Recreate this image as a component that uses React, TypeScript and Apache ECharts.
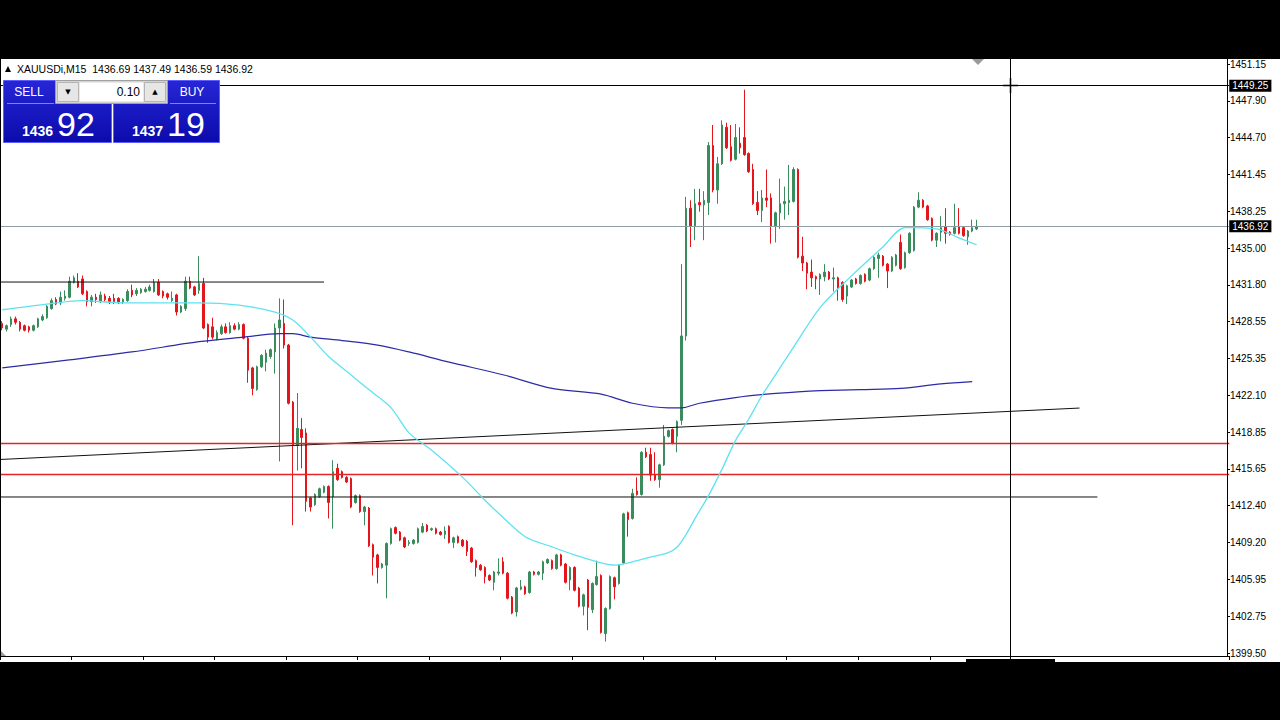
import React, { useEffect, useRef } from "react";
import * as echarts from "echarts";

const headerText = "XAUUSDi,M15  1436.69 1437.49 1436.59 1436.92";
const priceTickLabels = ["1399.50","1402.75","1405.95","1409.20","1412.40","1415.65","1418.85","1422.10","1425.35","1428.55","1431.80","1435.00","1438.25","1441.45","1444.70","1447.90","1451.15"];
const priceMin = 1399.5;
const priceMax = 1451.15;
const slotCount = 275;
const slotWidth = 4.47;
const lastTickSlot = 208;

const opens = [
1428.4,1427.9,1428.3,1428.8,1428.5,1428.2,1428.1,1427.8,1428.1,1428.7,
1428.9,1429.7,1430.5,1430.2,1430.6,1430.7,1432.0,1432.1,1432.3,1431.2,
1430.3,1430.7,1430.3,1430.8,1430.6,1430.6,1430.6,1430.3,1430.4,1431.3,
1431.0,1431.1,1431.2,1431.3,1431.2,1432.0,1431.2,1431.0,1430.4,1430.9,
1429.4,1429.7,1432.1,1431.6,1431.3,1431.9,1428.3,1428.1,1427.0,1427.5,
1428.1,1427.6,1428.2,1427.9,1428.3,1427.1,1424.5,1422.6,1424.6,1425.0,
1425.5,1425.9,1428.0,1428.4,1426.5,1421.5,1417.7,1419.1,1418.8,1413.1,
1412.5,1413.2,1413.6,1414.1,1413.2,1415.7,1415.4,1414.9,1414.8,1412.7,
1413.3,1411.9,1412.2,1409.0,1408.1,1407.0,1407.2,1409.1,1410.5,1410.1,
1409.6,1409.1,1409.1,1409.2,1410.1,1410.7,1410.3,1410.4,1410.1,1409.9,
1410.6,1409.2,1409.7,1409.4,1409.3,1408.7,1407.6,1407.2,1407.0,1406.3,
1405.7,1406.5,1407.5,1406.5,1404.4,1403.1,1405.1,1405.3,1404.8,1406.6,
1406.4,1406.5,1407.4,1407.6,1406.9,1408.1,1407.3,1405.9,1407.0,1405.2,
1403.6,1405.9,1403.3,1405.5,1406.3,1401.2,1403.4,1406.1,1405.6,1407.4,
1411.8,1411.3,1413.7,1413.4,1417.1,1416.9,1415.1,1414.7,1416.0,1418.5,
1419.1,1418.5,1419.9,1427.3,1438.5,1436.9,1439.0,1438.8,1439.0,1444.0,
1440.1,1442.4,1445.6,1443.9,1442.8,1444.2,1444.7,1443.3,1441.9,1439.0,
1438.3,1439.4,1439.4,1436.9,1438.1,1438.9,1439.0,1439.1,1441.9,1434.3,
1433.7,1432.9,1432.5,1432.3,1432.5,1432.9,1432.3,1432.4,1432.0,1430.8,
1431.6,1432.3,1431.9,1432.7,1432.2,1433.2,1434.1,1434.3,1433.6,1433.0,
1433.5,1435.5,1433.3,1434.6,1434.8,1438.6,1439.2,1438.7,1437.6,1435.7,
1436.4,1436.9,1436.4,1436.3,1436.9,1436.8,1436.0,1436.5,1436.69
];
const closes = [
1428.0,1428.2,1428.8,1428.5,1427.9,1427.8,1427.8,1428.2,1428.8,1429.0,
1429.9,1430.4,1430.1,1430.7,1430.8,1432.1,1432.4,1431.6,1431.0,1430.3,
1430.7,1430.5,1430.9,1430.5,1430.3,1430.3,1430.2,1430.5,1431.2,1430.9,
1431.3,1431.4,1431.4,1431.6,1432.0,1430.9,1430.8,1430.7,1430.6,1429.4,
1429.9,1432.1,1431.5,1430.9,1431.9,1428.0,1427.2,1427.2,1427.6,1428.1,
1427.6,1428.2,1427.9,1428.3,1427.1,1424.3,1422.7,1424.6,1425.6,1425.8,
1426.1,1428.0,1428.7,1426.5,1421.4,1417.7,1419.2,1418.4,1412.8,1412.3,
1413.4,1413.9,1414.1,1412.7,1415.4,1414.7,1414.9,1414.5,1412.3,1413.3,
1411.9,1412.3,1408.9,1407.9,1407.0,1407.3,1409.1,1410.4,1410.0,1409.4,
1408.8,1409.2,1409.4,1410.4,1410.6,1410.2,1410.4,1410.0,1409.9,1410.2,
1409.2,1409.6,1409.2,1408.9,1408.4,1407.5,1407.0,1406.8,1406.2,1405.9,
1406.6,1406.6,1406.5,1404.3,1403.0,1405.2,1405.3,1404.7,1406.6,1406.4,
1406.6,1407.5,1407.7,1406.9,1408.1,1407.2,1405.7,1407.0,1405.0,1403.6,
1404.6,1403.5,1405.6,1406.2,1401.3,1403.4,1406.2,1405.3,1407.2,1411.7,
1411.2,1413.5,1413.4,1417.1,1416.7,1415.1,1414.7,1416.0,1418.5,1419.0,
1417.9,1419.8,1427.3,1438.5,1436.9,1438.9,1438.8,1439.2,1444.0,1440.1,
1442.4,1445.8,1443.8,1442.7,1444.7,1443.8,1443.2,1441.7,1438.9,1438.3,
1439.4,1439.2,1436.9,1438.1,1438.9,1439.1,1439.2,1441.9,1434.2,1433.7,
1432.8,1432.4,1432.3,1432.7,1432.9,1432.3,1432.4,1431.5,1430.5,1431.7,
1432.2,1431.9,1432.6,1432.1,1433.2,1434.2,1434.4,1433.5,1433.0,1434.2,
1434.4,1433.2,1434.6,1436.3,1438.6,1439.2,1438.6,1437.5,1435.7,1436.3,
1436.8,1436.3,1436.2,1436.8,1436.3,1436.1,1436.5,1436.8,1436.92
];
const lows = [
1427.8,1427.7,1428.1,1428.3,1427.7,1427.7,1427.6,1427.7,1428.0,1428.6,
1428.8,1429.6,1430.0,1430.0,1430.4,1430.6,1431.9,1431.5,1430.9,1429.9,
1429.9,1430.2,1430.2,1430.3,1430.1,1430.1,1430.1,1430.1,1430.3,1430.7,
1430.8,1431.0,1431.1,1431.2,1431.1,1430.8,1430.6,1430.5,1430.3,1429.1,
1429.3,1429.5,1431.4,1430.8,1431.0,1427.9,1426.7,1427.0,1426.9,1427.4,
1427.5,1427.5,1427.8,1427.8,1427.0,1423.2,1422.1,1422.5,1424.5,1424.2,
1425.3,1424.0,1416.3,1426.2,1421.3,1410.7,1415.5,1415.7,1411.9,1411.9,
1412.4,1413.1,1413.5,1411.3,1410.4,1414.6,1414.8,1414.4,1412.2,1412.6,
1411.8,1410.7,1408.8,1406.3,1405.6,1406.9,1404.3,1409.0,1409.9,1409.3,
1408.7,1408.9,1409.0,1409.1,1410.0,1410.1,1410.2,1409.9,1409.8,1409.5,
1409.1,1408.7,1409.1,1408.8,1408.0,1407.4,1406.2,1406.7,1405.6,1405.8,
1405.0,1406.3,1406.4,1404.2,1402.9,1402.7,1405.0,1404.6,1404.7,1406.3,
1406.3,1405.9,1407.3,1406.8,1406.8,1407.1,1405.6,1405.0,1404.9,1403.5,
1402.8,1401.5,1403.0,1405.4,1401.2,1400.5,1403.3,1404.2,1405.5,1407.3,
1409.7,1411.2,1413.3,1413.3,1416.6,1414.6,1414.6,1414.0,1415.9,1418.4,
1417.8,1417.1,1419.5,1426.9,1435.1,1435.7,1438.2,1435.7,1437.9,1439.9,
1438.9,1442.3,1443.7,1442.6,1442.7,1443.3,1443.1,1441.6,1438.8,1437.9,
1437.3,1438.6,1435.4,1435.5,1436.7,1437.5,1437.9,1439.0,1434.1,1433.0,
1431.4,1431.6,1431.4,1430.9,1432.1,1432.2,1431.2,1430.4,1430.3,1430.1,
1431.5,1431.8,1431.8,1432.0,1432.1,1433.1,1432.4,1433.4,1431.5,1432.9,
1433.4,1433.1,1433.2,1434.5,1434.7,1438.5,1438.5,1437.4,1435.6,1435.1,
1435.6,1435.4,1436.1,1436.2,1436.2,1436.0,1435.3,1436.4,1436.59
];
const highs = [
1428.6,1428.3,1429.0,1429.0,1428.6,1428.3,1428.2,1428.3,1428.9,1429.2,
1430.0,1430.6,1430.7,1431.2,1431.3,1432.5,1432.6,1432.8,1432.6,1431.3,
1430.9,1431.0,1431.2,1431.0,1430.8,1431.0,1430.7,1430.6,1431.4,1431.8,
1431.5,1431.5,1431.6,1431.8,1432.3,1432.3,1431.3,1431.1,1431.2,1431.0,
1430.0,1432.5,1432.5,1431.7,1434.3,1432.4,1428.4,1428.9,1427.8,1428.3,
1428.4,1428.5,1428.4,1428.5,1428.4,1427.2,1424.6,1424.7,1425.7,1426.1,
1426.2,1428.4,1430.6,1430.5,1426.6,1421.6,1422.3,1420.1,1419.2,1413.2,
1413.5,1414.0,1414.2,1414.2,1416.4,1416.1,1415.5,1415.0,1414.9,1413.4,
1413.4,1412.4,1412.3,1409.1,1408.2,1407.4,1409.2,1410.5,1410.6,1410.2,
1409.7,1409.4,1409.5,1410.5,1410.9,1410.8,1410.5,1410.5,1410.2,1410.6,
1410.7,1409.7,1409.8,1409.5,1409.4,1408.8,1407.7,1407.3,1407.1,1406.4,
1406.7,1407.8,1407.9,1406.6,1404.5,1405.3,1405.9,1405.4,1406.7,1406.7,
1406.7,1407.6,1407.8,1407.7,1408.2,1408.2,1407.4,1407.1,1407.1,1405.3,
1404.7,1406.0,1405.7,1407.6,1406.4,1403.5,1406.3,1406.2,1407.3,1411.8,
1411.9,1413.9,1414.9,1417.2,1417.5,1417.5,1417.1,1416.1,1419.5,1419.1,
1419.2,1419.9,1433.6,1439.5,1439.2,1440.2,1440.2,1440.0,1444.3,1445.8,
1443.0,1446.2,1446.0,1445.8,1445.9,1445.6,1448.9,1443.4,1442.4,1440.0,
1440.1,1441.9,1439.8,1438.2,1441.1,1440.4,1442.3,1442.1,1442.0,1436.0,
1433.8,1434.0,1432.6,1432.8,1433.6,1433.0,1433.3,1432.5,1432.1,1431.8,
1432.3,1432.4,1432.7,1432.8,1433.3,1434.3,1434.6,1434.4,1433.7,1434.3,
1434.5,1436.2,1434.7,1436.4,1438.7,1439.9,1439.3,1438.8,1437.7,1436.4,
1437.8,1438.5,1436.5,1438.9,1438.5,1436.9,1436.6,1437.5,1437.49
];

const fastMAIndex = [0,10,18,27,44,53,61,65,69,73,78,82,87,91,96,103,108,112,117,123,128,134,137,141,145,149,151,153,155,158,161,164,167,170,172,177,183,189,197,202,209,214,218];
const fastMAValue = [1429.6,1430.1,1430.4,1430.2,1430.2,1430.0,1429.4,1428.7,1427.2,1425.5,1423.9,1422.6,1421.0,1418.8,1417.3,1414.9,1412.9,1411.4,1409.7,1408.8,1408.1,1407.4,1407.2,1407.5,1407.9,1408.3,1408.8,1409.9,1411.3,1413.3,1415.6,1418.1,1420.0,1422.1,1423.3,1426.3,1429.8,1432.2,1435.1,1436.8,1436.7,1435.9,1435.3];
const slowMAIndex = [0,15,29,44,54,62,65,69,76,84,91,100,112,123,134,141,149,152,156,164,171,178,183,192,201,210,217];
const slowMAValue = [1424.5,1425.2,1425.9,1426.8,1427.2,1427.5,1427.5,1427.2,1426.9,1426.5,1425.9,1425.0,1423.9,1422.7,1422.2,1421.4,1421.0,1421.0,1421.4,1421.9,1422.2,1422.4,1422.5,1422.6,1422.7,1423.1,1423.3];

const askLevel = 1449.25;
const bidLevel = 1436.92;
const redLevels = [1417.87, 1415.19];
const resistanceLevel = 1432.03;
const resistanceEnd = 72;
const supportLevel = 1413.18;
const supportEnd = 245;
const trendStart = [-1, 1416.46];
const trendEnd = [241, 1420.98];

const FONT = '"Liberation Sans", Arial, sans-serif';

export default function App() {
  const ref = useRef<HTMLDivElement>(null);
  useEffect(() => {
    document.body.style.margin = "0";
    document.body.style.background = "#000";
    const chart = echarts.init(ref.current as HTMLDivElement, undefined, { renderer: "svg" });
    const interval = (priceMax - priceMin) / (priceTickLabels.length - 1);
    const gridWidth = slotCount * slotWidth;
    const categories = Array.from({ length: slotCount }, (_, i) => String(i));
    const candleData = opens.map((o, i) => {
      const c = closes[i];
      return [o, c, Math.min(lows[i], o, c), Math.max(highs[i], o, c)];
    });
    const fastData = fastMAIndex.map((ix, k) => [ix, fastMAValue[k]]);
    const slowData = slowMAIndex.map((ix, k) => [ix, slowMAValue[k]]);
    const bull = "#3a8c5c";
    const bear = "#e4161c";
    const panelGrad = {
      type: "linear", x: 0, y: 0, x2: 0, y2: 1,
      colorStops: [{ offset: 0, color: "#2626d6" }, { offset: 1, color: "#0b0bac" }],
    };
    const txt = (text: string, x: number, y: number, size: number, fill: string, align = "left", weight = "normal", family = FONT) => ({
      type: "text", x, y, z: 120, silent: true,
      style: { text, fill, fontSize: size, fontFamily: family, fontWeight: weight, align, verticalAlign: "middle" },
    });
    const ln = (x1: number, y1: number, x2: number, y2: number, stroke: string, z = 60, w = 1) => ({
      type: "line", z, silent: true, shape: { x1, y1, x2, y2 }, style: { stroke, lineWidth: w },
    });
    const lvlLabel = (t: string) => ({
      show: true, position: "end", formatter: t, color: "#fff", backgroundColor: "#000",
      padding: [1, 3, 1, 3], fontSize: 10, fontFamily: FONT, distance: 0,
    });

    chart.setOption({
      animation: false,
      backgroundColor: "#000",
      grid: { left: 0, top: 64, width: gridWidth, height: 589 },
      xAxis: {
        type: "category", data: categories, boundaryGap: true, offset: 3,
        axisLine: { show: true, lineStyle: { color: "#000", width: 1 } },
        axisTick: {
          show: true, length: 4, lineStyle: { color: "#000" },
          interval: (index: number) => index % 16 === 0 && index <= lastTickSlot,
        },
        axisLabel: { show: false }, splitLine: { show: false },
      },
      yAxis: {
        type: "value", position: "right", min: priceMin, max: priceMax, interval,
        offset: -(gridWidth - 1227),
        axisLine: { show: false },
        axisTick: { show: true, length: 3, lineStyle: { color: "#000" } },
        axisLabel: {
          margin: 3, color: "#000", fontSize: 10, fontFamily: FONT,
          formatter: (v: number) => priceTickLabels[Math.round((v - priceMin) / interval)] || "",
        },
        splitLine: { show: false },
      },
      series: [
        {
          type: "candlestick", data: candleData, barWidth: 2, z: 3,
          itemStyle: { color: bull, color0: bear, borderColor: bull, borderColor0: bear, borderWidth: 1 },
        },
        {
          type: "line", data: [], z: 4, silent: true,
          markLine: {
            silent: true, symbol: ["none", "none"], animation: false,
            data: [
              { yAxis: askLevel, lineStyle: { color: "#000", width: 1, type: "solid" }, label: lvlLabel("1449.25") },
              { yAxis: bidLevel, lineStyle: { color: "#8e9ea4", width: 1, type: "solid" }, label: lvlLabel("1436.92") },
              { yAxis: redLevels[0], lineStyle: { color: "#e02626", width: 1.4, type: "solid" }, label: { show: false } },
              { yAxis: redLevels[1], lineStyle: { color: "#e02626", width: 1.4, type: "solid" }, label: { show: false } },
            ],
          },
        },
        {
          type: "line", data: [[-1, resistanceLevel], [resistanceEnd, resistanceLevel]], symbol: "none", z: 4,
          lineStyle: { color: "#111", width: 1 }, silent: true,
        },
        {
          type: "line", data: [[-1, supportLevel], [supportEnd, supportLevel]], symbol: "none", z: 4,
          lineStyle: { color: "#111", width: 1 }, silent: true,
        },
        {
          type: "line", data: [trendStart, trendEnd], symbol: "none", z: 4,
          lineStyle: { color: "#111", width: 1 }, silent: true,
        },
        {
          type: "line", data: slowData, symbol: "none", smooth: 0.3, z: 5,
          lineStyle: { color: "#2b2ba6", width: 1.2 }, silent: true,
        },
        {
          type: "line", data: fastData, symbol: "none", smooth: 0.3, z: 5,
          lineStyle: { color: "#5fe2f0", width: 1.3 }, silent: true,
        },
      ],
      graphic: {
        elements: [
          { type: "rect", z: -100, silent: true, shape: { x: 0, y: 59, width: 1280, height: 603 }, style: { fill: "#fff" } },
          ln(0.5, 59, 0.5, 657, "#000"),
          ln(1227.5, 59, 1227.5, 657, "#000"),
          ln(1010.5, 59, 1010.5, 661, "#000"),
          ln(1003, 85.5, 1018, 85.5, "#000", 61, 1.5),
          ln(1010.5, 78, 1010.5, 93, "#000", 61, 1.5),
          { type: "polygon", z: 60, silent: true, shape: { points: [[972, 59], [984, 59], [978, 65]] }, style: { fill: "#9a9a9a" } },
          { type: "polygon", z: 60, silent: true, shape: { points: [[1, 651], [1, 656], [6, 656]] }, style: { fill: "#9a9a9a" } },
          { type: "rect", z: 60, silent: true, shape: { x: 966, y: 659, width: 89, height: 3 }, style: { fill: "#000" } },
          { type: "polygon", z: 120, silent: true, shape: { points: [[5, 72], [11, 72], [8, 66]] }, style: { fill: "#000" } },
          txt(headerText, 17, 69, 10.5, "#000"),
          { type: "rect", z: 110, silent: true, shape: { x: 3.5, y: 80.5, width: 108, height: 62 }, style: { fill: panelGrad, stroke: "#5c5cff", lineWidth: 1 } },
          { type: "rect", z: 110, silent: true, shape: { x: 113.5, y: 80.5, width: 106, height: 62 }, style: { fill: panelGrad, stroke: "#5c5cff", lineWidth: 1 } },
          ln(7, 103.5, 54, 103.5, "#8080ff", 115),
          ln(170, 103.5, 216, 103.5, "#8080ff", 115),
          { type: "rect", z: 112, silent: true, shape: { x: 55.5, y: 80.5, width: 112, height: 23 }, style: { fill: "#d6d3ce", stroke: "#a0a0a0", lineWidth: 1 } },
          { type: "rect", z: 113, silent: true, shape: { x: 57.5, y: 82.5, width: 21, height: 19 }, style: { fill: "#e6e6e6", stroke: "#b4b4b4", lineWidth: 1 } },
          { type: "rect", z: 113, silent: true, shape: { x: 144.5, y: 82.5, width: 21, height: 19 }, style: { fill: "#e6e6e6", stroke: "#b4b4b4", lineWidth: 1 } },
          { type: "rect", z: 113, silent: true, shape: { x: 79.5, y: 82.5, width: 64, height: 19 }, style: { fill: "#fff" } },
          txt("▼", 68, 91.5, 7, "#000", "center", "normal", '"DejaVu Sans", sans-serif'),
          txt("▲", 155, 91.5, 7, "#000", "center", "normal", '"DejaVu Sans", sans-serif'),
          txt("0.10", 140, 92, 12, "#000", "right"),
          txt("SELL", 29, 92, 12, "#fff", "center"),
          txt("BUY", 192, 92, 12, "#fff", "center"),
          txt("1436", 22, 130.5, 14, "#fff", "left", "bold"),
          txt("92", 57, 123.5, 34, "#fff", "left"),
          txt("1437", 132, 130.5, 14, "#fff", "left", "bold"),
          txt("19", 167, 123.5, 34, "#fff", "left"),
        ],
      },
    });
    return () => chart.dispose();
  }, []);
  return <div ref={ref} style={{ position: "fixed", left: 0, top: 0, width: 1280, height: 720, background: "#000" }} />;
}
